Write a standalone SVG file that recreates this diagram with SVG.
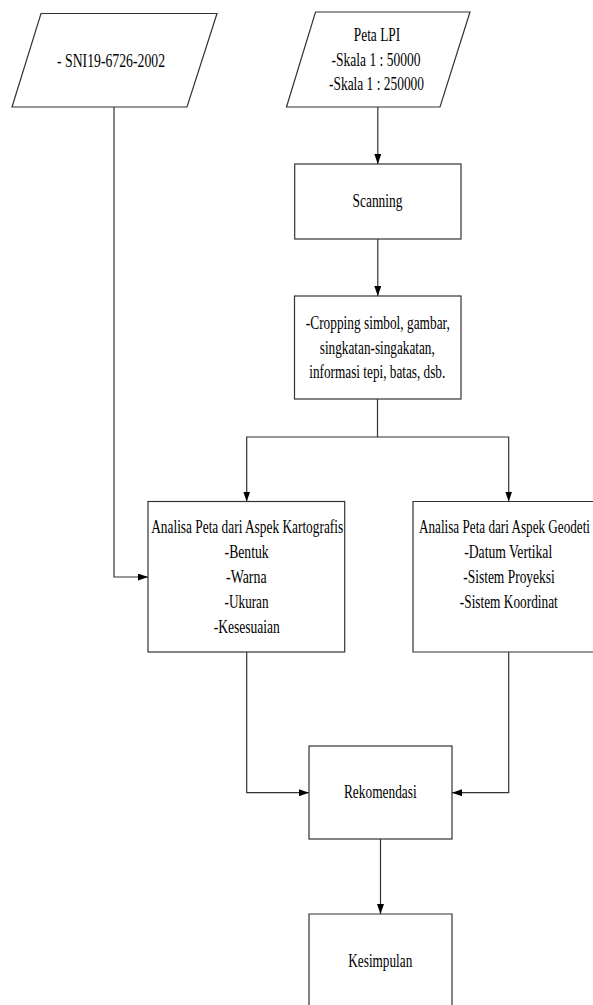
<svg xmlns="http://www.w3.org/2000/svg" width="593" height="1005" viewBox="0 0 593 1005">
<style>
.n{fill:#fff;stroke:#333;stroke-width:1.2}
.c{fill:none;stroke:#333;stroke-width:1.2}
text{font-family:"Liberation Serif","Times New Roman",serif;font-size:18.5px;fill:#000}
</style>
<defs>
<marker id="a" markerUnits="userSpaceOnUse" markerWidth="10" markerHeight="7" refX="10" refY="3.5" orient="auto">
<path d="M0,0 L10,3.5 L0,7 z" fill="#000"/>
</marker>
</defs>
<rect width="593" height="1005" fill="#fff"/>
<g id="connectors">
<path class="c" d="M114,107 V577 H148" marker-end="url(#a)"/>
<path class="c" d="M377.8,107 V164" marker-end="url(#a)"/>
<path class="c" d="M377.8,239 V296" marker-end="url(#a)"/>
<path class="c" d="M377.5,399 V437 H246.7 V501.5" marker-end="url(#a)"/>
<path class="c" d="M377.5,437 H508.7 V501.5" marker-end="url(#a)"/>
<path class="c" d="M246.7,652 V792.7 H309" marker-end="url(#a)"/>
<path class="c" d="M508.7,652 V792.7 H452" marker-end="url(#a)"/>
<path class="c" d="M380.5,839 V914" marker-end="url(#a)"/>
</g>
<g id="sni">
<polygon class="n" points="41,13.5 217,13.5 187,107 12,107"/>
<text x="111" y="66.5" text-anchor="middle" textLength="108" lengthAdjust="spacingAndGlyphs">- SNI19-6726-2002</text>
</g>
<g id="peta">
<polygon class="n" points="315.5,12 470,12 440,107 286.5,107"/>
<text x="377" y="40.5" text-anchor="middle" textLength="46.5" lengthAdjust="spacingAndGlyphs">Peta LPI</text>
<text x="376" y="65.5" text-anchor="middle" textLength="89" lengthAdjust="spacingAndGlyphs">-Skala 1 : 50000</text>
<text x="376.5" y="90" text-anchor="middle" textLength="95" lengthAdjust="spacingAndGlyphs">-Skala 1 : 250000</text>
</g>
<g id="scanning">
<rect class="n" x="294.7" y="164" width="166.3" height="75"/>
<text x="377.5" y="207" text-anchor="middle" textLength="50" lengthAdjust="spacingAndGlyphs">Scanning</text>
</g>
<g id="cropping">
<rect class="n" x="294.5" y="296" width="166.5" height="103"/>
<text x="377.8" y="329" text-anchor="middle" textLength="144" lengthAdjust="spacingAndGlyphs">-Cropping simbol, gambar,</text>
<text x="377.3" y="353.5" text-anchor="middle" textLength="115" lengthAdjust="spacingAndGlyphs">singkatan-singakatan,</text>
<text x="377.3" y="378" text-anchor="middle" textLength="136" lengthAdjust="spacingAndGlyphs">informasi tepi, batas, dsb.</text>
</g>
<g id="kartografis">
<rect class="n" x="148" y="501.5" width="196.7" height="150.5"/>
<text x="247.2" y="533" text-anchor="middle" textLength="192" lengthAdjust="spacingAndGlyphs">Analisa Peta dari Aspek Kartografis</text>
<text x="246.6" y="558" text-anchor="middle" textLength="44" lengthAdjust="spacingAndGlyphs">-Bentuk</text>
<text x="246.3" y="583" text-anchor="middle" textLength="40.5" lengthAdjust="spacingAndGlyphs">-Warna</text>
<text x="246.6" y="608" text-anchor="middle" textLength="44" lengthAdjust="spacingAndGlyphs">-Ukuran</text>
<text x="246.8" y="633" text-anchor="middle" textLength="66" lengthAdjust="spacingAndGlyphs">-Kesesuaian</text>
</g>
<g id="geodetis">
<path class="n" d="M593,501.5 H413 V652 H593"/>
<text x="419" y="533" textLength="171" lengthAdjust="spacingAndGlyphs">Analisa Peta dari Aspek Geodeti</text>
<text x="508.2" y="558" text-anchor="middle" textLength="88" lengthAdjust="spacingAndGlyphs">-Datum Vertikal</text>
<text x="509" y="583" text-anchor="middle" textLength="91.5" lengthAdjust="spacingAndGlyphs">-Sistem Proyeksi</text>
<text x="508.8" y="608" text-anchor="middle" textLength="98" lengthAdjust="spacingAndGlyphs">-Sistem Koordinat</text>
</g>
<g id="rekomendasi">
<rect class="n" x="309" y="746" width="143" height="93"/>
<text x="380.3" y="798" text-anchor="middle" textLength="72.7" lengthAdjust="spacingAndGlyphs">Rekomendasi</text>
</g>
<g id="kesimpulan">
<path class="n" d="M309,1005 V914 H452 V1005"/>
<text x="380.3" y="967" text-anchor="middle" textLength="64" lengthAdjust="spacingAndGlyphs">Kesimpulan</text>
</g>
</svg>
